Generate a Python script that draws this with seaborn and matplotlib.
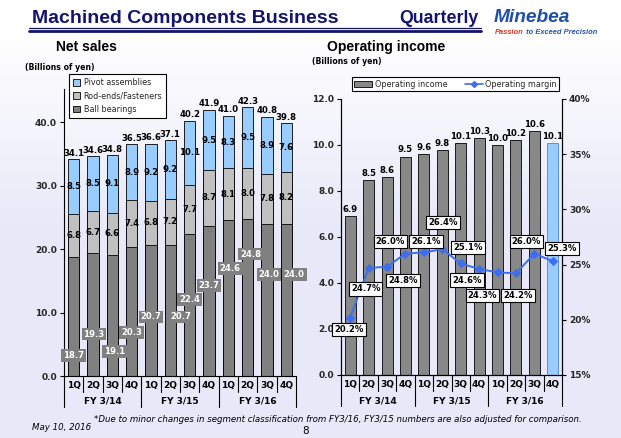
import numpy as np
import pandas as pd
import matplotlib
matplotlib.use("Agg")
import matplotlib.pyplot as plt
import seaborn as sns
from matplotlib.patches import Patch
from matplotlib.lines import Line2D

# ---------------- data ----------------
quarters = ["1Q", "2Q", "3Q", "4Q"] * 3
fiscal_years = ["FY 3/14", "FY 3/15", "FY 3/16"]
ball_bearings = [18.7, 19.3, 19.1, 20.3, 20.7, 20.7, 22.4, 23.7, 24.6, 24.8, 24.0, 24.0]
rod_ends = [6.8, 6.7, 6.6, 7.4, 6.8, 7.2, 7.7, 8.7, 8.1, 8.0, 7.8, 8.2]
pivot_assemblies = [8.5, 8.5, 9.1, 8.9, 9.2, 9.2, 10.1, 9.5, 8.3, 9.5, 8.9, 7.6]
net_sales_total = [34.1, 34.6, 34.8, 36.5, 36.6, 37.1, 40.2, 41.9, 41.0, 42.3, 40.8, 39.8]
operating_income = [6.9, 8.5, 8.6, 9.5, 9.6, 9.8, 10.1, 10.3, 10.0, 10.2, 10.6, 10.1]
operating_margin = [20.2, 24.7, 24.8, 26.0, 26.1, 26.4, 25.1, 24.6, 24.3, 24.2, 26.0, 25.3]

# ---------------- layout helpers (label placement only) ----------------
bb_label_y = [3.2, 6.6, 3.9, 6.8, 9.3, 9.3, 12.1, 14.3, 16.9, 19.2, 16.0, 16.0]
bb_label_dx = [0, 1, 2, 0, 0, 10, 0, 0, 2, 3, 2, 8]
margin_label_offsets = [(-1, -12), (-3, -21), (16, -14), (-15, 12), (2, 11), (1, 27),
                        (7, 16), (-12, -11), (-15, -23), (2, -22), (-8, 12), (9, 13)]

periods = [f"{fiscal_years[i // 4]} {quarters[i]}" for i in range(12)]
df = pd.DataFrame({
    "period": periods,
    "bb": ball_bearings,
    "rod": rod_ends,
    "piv": pivot_assemblies,
    "total": net_sales_total,
    "oi": operating_income,
    "om": operating_margin,
})
df["bb_rod"] = df["bb"] + df["rod"]

W, H = 621, 438
sns.set_theme(style="white")
plt.rcParams["font.family"] = ["DejaVu Sans"]

fig = plt.figure(figsize=(W / 100, H / 100), dpi=100)

# background gradient
bg = fig.add_axes([0, 0, 1, 1], zorder=-10)
yy = np.linspace(0, 1, H)[:, None]
t = np.clip((yy - 0.08) / 0.45, 0, 1)
top = np.array([1.0, 1.0, 1.0])
bot = np.array([0.91, 0.91, 0.975])
grad = (top[None, None, :] * (1 - t[..., None]) + bot[None, None, :] * t[..., None])
grad = np.repeat(grad, 2, axis=1)
bg.imshow(grad, aspect="auto", extent=[0, 1, 0, 1], origin="upper")
bg.axis("off")

def fpos(x0, y0, x1, y1):
    return [x0 / W, 1 - y1 / H, (x1 - x0) / W, (y1 - y0) / H]

navy = "#14146e"
NUMFS = 6.1
TICKFS = 6.5

# ---------------- header ----------------
fig.text(32 / W, 1 - 18.5 / H, "Machined Components Business", fontsize=14,
         fontweight="bold", color=navy, family="Liberation Sans", ha="left", va="center")
fig.text(478 / W, 1 - 18.5 / H, "Quarterly", fontsize=12.8, fontweight="bold",
         color=navy, family="Liberation Sans", ha="right", va="center")
fig.add_artist(Line2D([29 / W, 481 / W], [1 - 27.8 / H] * 2, color=navy, lw=0.9))
fig.add_artist(Line2D([29 / W, 481 / W], [1 - 30.8 / H] * 2, color=navy, lw=2.0))
fig.text(494 / W, 1 - 22.5 / H, "Minebea", fontsize=13.8, fontweight="heavy",
         style="italic", color="#1f4ea6", family="Liberation Sans", ha="left",
         va="baseline")
t1 = fig.text(495 / W, 1 - 33.5 / H, "Passion", fontsize=5.4, fontweight="bold",
              style="italic", color="#d23a2a", family="Liberation Sans", ha="left",
              va="baseline")
fig.add_artist(matplotlib.text.Annotation(
    " to Exceed Precision", xy=(1, 0), xycoords=t1, xytext=(1, 0), textcoords=t1,
    fontsize=5.4, fontweight="bold", style="italic", color="#2a55a8",
    family="Liberation Sans", ha="left", va="bottom"))

fig.text(56 / W, 1 - 47 / H, "Net sales", fontsize=10, fontweight="bold",
         family="Liberation Sans", ha="left", va="center", color="black")
fig.text(327 / W, 1 - 47 / H, "Operating income", fontsize=10, fontweight="bold",
         family="Liberation Sans", ha="left", va="center", color="black")
fig.text(25 / W, 1 - 68 / H, "(Billions of yen)", fontsize=5.6, fontweight="bold",
         ha="left", va="center", color="black")
fig.text(312 / W, 1 - 62 / H, "(Billions of yen)", fontsize=5.6, fontweight="bold",
         ha="left", va="center", color="black")

# ---------------- footer ----------------
fig.text(94 / W, 1 - 420 / H,
         "*Due to minor changes in segment classification from FY3/16, FY3/15 numbers are also adjusted for comparison.",
         fontsize=6.2, style="italic", ha="left", va="center", color="black")
fig.text(32 / W, 1 - 428 / H, "May 10, 2016", fontsize=6.2, style="italic",
         ha="left", va="center", color="black")
fig.text(306 / W, 1 - 431 / H, "8", fontsize=7.5, ha="center", va="center", color="black")


def category_axis(ax, h_px):
    tr = ax.get_xaxis_transform()
    for i, q in enumerate(quarters):
        ax.text(i, -9.5 / h_px, q, transform=tr, ha="center", va="center",
                fontsize=TICKFS, fontweight="bold", color="black")
    for i in range(1, 12):
        if i % 4:
            ax.plot([i - 0.5, i - 0.5], [0, -16 / h_px], transform=tr, clip_on=False,
                    color="black", lw=0.8)
    for g in range(4):
        x = g * 4 - 0.5
        ax.plot([x, x], [0, -31 / h_px], transform=tr, clip_on=False, color="black", lw=0.8)
    for g, fy in enumerate(fiscal_years):
        ax.text(g * 4 + 1.5, -25.5 / h_px, fy, transform=tr, ha="center", va="center",
                fontsize=TICKFS, fontweight="bold", color="black")


def style_axis(ax):
    ax.set_facecolor("none")
    ax.set_xlabel("")
    ax.set_ylabel("")
    ax.set_xticks([])
    ax.set_xlim(-0.5, 11.5)
    for s in ax.spines.values():
        s.set_color("black")
        s.set_linewidth(0.8)
    ax.tick_params(axis="y", length=3, width=0.8, color="black", direction="out",
                   labelsize=TICKFS, pad=2)
    for lab in ax.get_yticklabels():
        lab.set_fontweight("bold")


# ---------------- left: net sales ----------------
ax1 = fig.add_axes(fpos(64, 89, 296, 376))
bar_kw = dict(order=periods, width=0.6, saturation=1, edgecolor="black", linewidth=0.6,
              ax=ax1, errorbar=None)
sns.barplot(data=df, x="period", y="total", color="#99ccff", **bar_kw)
sns.barplot(data=df, x="period", y="bb_rod", color="#c0c0c0", **bar_kw)
sns.barplot(data=df, x="period", y="bb", color="#808080", **bar_kw)
ax1.set_ylim(0, 45.2)
ax1.set_yticks([0, 10, 20, 30, 40])
ax1.set_yticklabels([f"{v:.1f}" for v in [0, 10, 20, 30, 40]])
style_axis(ax1)
ax1.spines["top"].set_visible(False)
ax1.spines["right"].set_visible(False)
ax1.tick_params(axis="y", left=True)
category_axis(ax1, 287)

for i in range(12):
    bb, rod, tot, piv = df.bb[i], df.rod[i], df.total[i], df.piv[i]
    ax1.annotate(f"{tot:.1f}", (i, tot), xytext=(0, 1.5), textcoords="offset pixels",
                 ha="center", va="bottom", fontsize=NUMFS, fontweight="bold", color="black",
                 zorder=10)
    ax1.text(i, bb + rod / 2, f"{rod:.1f}", ha="center", va="center",
             fontsize=NUMFS, fontweight="bold", color="black", zorder=10)
    ax1.text(i, bb + rod + (tot - bb - rod) / 2, f"{piv:.1f}", ha="center",
             va="center", fontsize=NUMFS, fontweight="bold", color="black", zorder=10)
    ax1.annotate(f"{bb:.1f}", (i, bb_label_y[i]), xytext=(bb_label_dx[i], 0),
                 textcoords="offset pixels", ha="center", va="center", fontsize=NUMFS,
                 fontweight="bold", color="white", zorder=11,
                 bbox=dict(boxstyle="square,pad=0.22", fc="#808080", ec="none"))

leg1 = ax1.legend(
    handles=[Patch(fc="#99ccff", ec="black", lw=0.6), Patch(fc="#c0c0c0", ec="black", lw=0.6),
             Patch(fc="#808080", ec="black", lw=0.6)],
    labels=["Pivot assemblies", "Rod-ends/Fasteners", "Ball bearings"],
    loc="upper left", bbox_to_anchor=(69 / W, 1 - 74 / H), bbox_transform=fig.transFigure,
    frameon=True, fancybox=False, edgecolor="black", facecolor="white", framealpha=1,
    fontsize=5.8, handlelength=0.9, handleheight=0.9, borderpad=0.5, labelspacing=0.55,
    handletextpad=0.4, borderaxespad=0)
leg1.get_frame().set_linewidth(0.8)
leg1.set_zorder(20)

# ---------------- right: operating income ----------------
ax2 = fig.add_axes(fpos(341, 99, 562, 375))
sns.barplot(data=df, x="period", y="oi", order=periods, color="#888888", width=0.6,
            saturation=1, edgecolor="black", linewidth=0.6, ax=ax2, errorbar=None)
ax2.patches[-1].set_facecolor("#99ccff")
ax2.patches[-1].set_edgecolor("#4a86d0")
ax2.set_ylim(0, 12)
ax2.set_yticks(np.arange(0, 12.1, 2))
ax2.set_yticklabels([f"{v:.1f}" for v in np.arange(0, 12.1, 2)])
style_axis(ax2)
ax2.spines["top"].set_visible(False)
ax2.tick_params(axis="y", left=True)
category_axis(ax2, 276)
for i in range(12):
    ax2.annotate(f"{df.oi[i]:.1f}", (i, df.oi[i]), xytext=(0, 2), textcoords="offset pixels",
                 ha="center", va="bottom", fontsize=NUMFS, fontweight="bold", color="black",
                 zorder=10)

ax3 = ax2.twinx()
line_color = "#3d6ef0"
sns.lineplot(x=np.arange(12), y=operating_margin, ax=ax3, color=line_color, lw=1.4,
             marker="D", markersize=4, markeredgecolor=line_color, markerfacecolor=line_color)
ax3.set_ylim(15, 40)
ax3.set_yticks(np.arange(15, 41, 5))
ax3.set_yticklabels([f"{v}%" for v in range(15, 41, 5)])
style_axis(ax3)
ax3.spines["top"].set_visible(False)
ax3.tick_params(axis="y", right=True, left=False)
for i, (v, (dx, dy)) in enumerate(zip(operating_margin, margin_label_offsets)):
    ax3.annotate(f"{v:.1f}%", (i, v), xytext=(dx, dy), textcoords="offset pixels",
                 ha="center", va="center", fontsize=NUMFS, fontweight="bold", color="black",
                 bbox=dict(boxstyle="square,pad=0.25", fc="white", ec="black", lw=0.8),
                 zorder=10)

leg2 = ax3.legend(
    handles=[Patch(fc="#888888", ec="black", lw=0.6),
             Line2D([], [], color=line_color, marker="D", markersize=3, lw=1.2)],
    labels=["Operating income", "Operating margin"],
    loc="lower left", bbox_to_anchor=(352 / W, 1 - 91 / H, 207 / W, 15 / H),
    bbox_transform=fig.transFigure, mode="expand", ncol=2,
    frameon=True, fancybox=False, edgecolor="black", facecolor="white", framealpha=1,
    fontsize=5.8, handlelength=2.2, handleheight=0.8, borderpad=0.3, columnspacing=1.0,
    handletextpad=0.3, borderaxespad=0)
leg2.get_frame().set_linewidth(0.8)
leg2.set_zorder(20)

fig.savefig("out.png", dpi=100)
